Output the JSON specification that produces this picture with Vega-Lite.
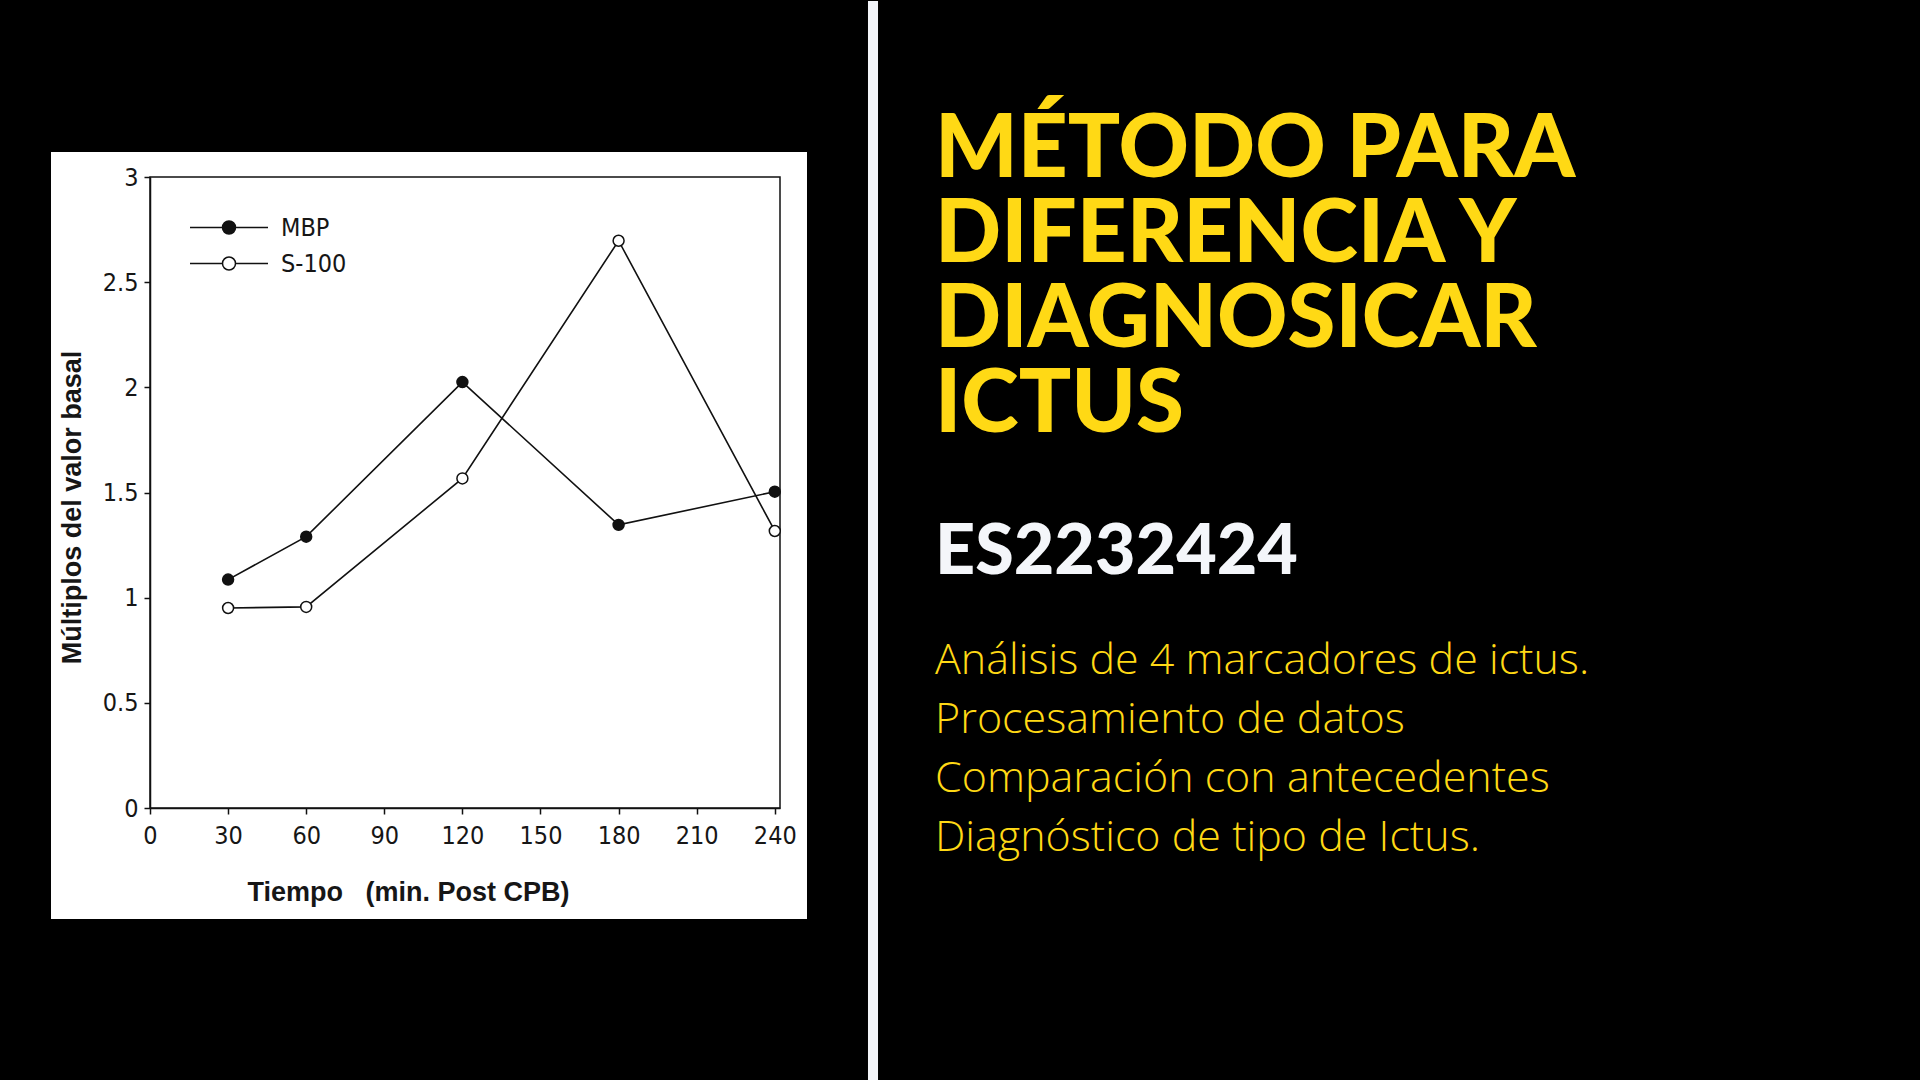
{
  "$schema": "https://vega.github.io/schema/vega-lite/v6.json",
  "background": "black",
  "padding": 0,
  "autosize": {"type": "pad"},
  "bounds": "flush",
  "spacing": 155,
  "config": {"view": {"stroke": null}, "font": "Liberation Sans"},
  "datasets": {
    "series": [
      {"t": 30, "v": 1.086, "serie": "MBP"},
      {"t": 60, "v": 1.29, "serie": "MBP"},
      {"t": 120, "v": 2.025, "serie": "MBP"},
      {"t": 180, "v": 1.346, "serie": "MBP"},
      {"t": 240, "v": 1.504, "serie": "MBP"},
      {"t": 30, "v": 0.951, "serie": "S-100"},
      {"t": 60, "v": 0.956, "serie": "S-100"},
      {"t": 120, "v": 1.567, "serie": "S-100"},
      {"t": 180, "v": 2.697, "serie": "S-100"},
      {"t": 240, "v": 1.317, "serie": "S-100"}
    ],
    "titulo": [
      {"n": 1, "texto": "MÉTODO PARA"},
      {"n": 2, "texto": "DIFERENCIA Y"},
      {"n": 3, "texto": "DIAGNOSICAR"},
      {"n": 4, "texto": "ICTUS"}
    ],
    "codigo": [{"n": 1, "texto": "ES2232424"}],
    "puntos": [
      {"n": 1, "texto": "Análisis de 4 marcadores de ictus."},
      {"n": 2, "texto": "Procesamiento de datos"},
      {"n": 3, "texto": "Comparación con antecedentes"},
      {"n": 4, "texto": "Diagnóstico de tipo de Ictus."}
    ],
    "uno": [{}]
  },
  "hconcat": [
    {
      "width": 630,
      "height": 631,
      "layer": [
        {
          "data": {"name": "uno"},
          "mark": {"type": "rect", "fill": "black"},
          "encoding": {
            "x": {"datum": -57.235, "type": "quantitative", "scale": {"domain": [0, 242], "nice": false, "zero": false}},
            "x2": {"datum": 680.29},
            "y": {"datum": 3.8368, "type": "quantitative", "scale": {"domain": [0, 3], "nice": false, "zero": false}},
            "y2": {"datum": -1.2979}
          }
        },
        {
          "data": {"name": "uno"},
          "mark": {"type": "rect", "fill": "white"},
          "encoding": {
            "x": {"datum": -38.03, "type": "quantitative"},
            "x2": {"datum": 252.37},
            "y": {"datum": 3.1189, "type": "quantitative"},
            "y2": {"datum": -0.5277}
          }
        },
        {
          "data": {"name": "uno"},
          "mark": {"type": "rect", "fill": "#f3f5f9"},
          "encoding": {
            "x": {"datum": 275.8, "type": "quantitative"},
            "x2": {"datum": 279.65},
            "y": {"datum": 3.8368, "type": "quantitative"},
            "y2": {"datum": -1.2979}
          }
        },
        {
          "data": {"name": "uno"},
          "mark": {"type": "rect", "fill": null, "fillOpacity": 0, "stroke": "#111111", "strokeWidth": 1.5},
          "encoding": {
            "x": {"datum": 0, "type": "quantitative"},
            "x2": {"datum": 242},
            "y": {"datum": 3, "type": "quantitative"},
            "y2": {"datum": 0}
          }
        },
        {
          "data": {"name": "series"},
          "mark": {"type": "line", "color": "#111111", "strokeWidth": 1.6},
          "encoding": {
            "x": {
              "field": "t", "type": "quantitative",
              "axis": {
                "title": "Tiempo\u00a0\u00a0\u00a0(min. Post CPB)",
                "values": [0, 30, 60, 90, 120, 150, 180, 210, 240],
                "format": "d",
                "zindex": 1,
                "grid": false,
                "labelFlush": false,
                "labelOverlap": false,
                "labelFont": "Liberation Sans Narrow, DejaVu Sans Condensed, Liberation Sans",
                "labelFontSize": 25,
                "labelColor": "#161616",
                "labelPadding": 9,
                "tickSize": 6,
                "tickWidth": 1.5,
                "tickColor": "#111111",
                "domainColor": "#111111",
                "domainWidth": 1.5,
                "titleFont": "Liberation Sans",
                "titleFontWeight": "bold",
                "titleFontSize": 27,
                "titleColor": "#161616",
                "titleBaseline": "middle",
                "titleX": 258,
                "titleY": 84
              }
            },
            "y": {
              "field": "v", "type": "quantitative",
              "axis": {
                "title": "Múltiplos del valor basal",
                "values": [0, 0.5, 1, 1.5, 2, 2.5, 3],
                "format": "~g",
                "zindex": 1,
                "grid": false,
                "labelFlush": false,
                "labelOverlap": false,
                "labelFont": "Liberation Sans Narrow, DejaVu Sans Condensed, Liberation Sans",
                "labelFontSize": 25,
                "labelColor": "#161616",
                "labelPadding": 6,
                "tickSize": 6,
                "tickWidth": 1.5,
                "tickColor": "#111111",
                "domainColor": "#111111",
                "domainWidth": 1.5,
                "titleFont": "Liberation Sans",
                "titleFontWeight": "bold",
                "titleFontSize": 27,
                "titleColor": "#161616",
                "titleBaseline": "middle",
                "titleX": -78,
                "titleY": 330
              }
            },
            "detail": {"field": "serie"}
          }
        },
        {
          "data": {"name": "series"},
          "mark": {"type": "point", "shape": "circle", "filled": true, "size": 120, "stroke": "#111111", "strokeWidth": 1.5, "opacity": 1},
          "encoding": {
            "x": {"field": "t", "type": "quantitative", "title": "Tiempo\u00a0\u00a0\u00a0(min. Post CPB)"},
            "y": {"field": "v", "type": "quantitative", "title": "Múltiplos del valor basal"},
            "fill": {
              "field": "serie", "type": "nominal",
              "scale": {"domain": ["MBP", "S-100"], "range": ["#111111", "white"]},
              "legend": {
                "orient": "none",
                "legendX": 66.5,
                "legendY": 38,
                "title": null,
                "padding": 0,
                "zindex": 1,
                "symbolType": "M-6,0H-1M1,0H6M1,0A1,1,0,1,1,-1,0A1,1,0,1,1,1,0",
                "symbolSize": 169,
                "symbolStrokeColor": "#111111",
                "symbolStrokeWidth": 1.5,
                "symbolOpacity": 1,
                "labelFont": "Liberation Sans Narrow, DejaVu Sans Condensed, Liberation Sans",
                "labelFontSize": 25,
                "labelColor": "#161616",
                "labelOffset": 39.5,
                "rowPadding": 10,
                "encode": {"symbols": {"update": {"stroke": {"value": "#111111"}, "strokeWidth": {"value": 1.5}}}}
              }
            }
          }
        }
      ]
    },
    {
      "vconcat": [
        {
          "width": 900,
          "height": 255,
          "data": {"name": "titulo"},
          "mark": {"type": "text", "align": "left", "baseline": "alphabetic", "font": "Lato", "fontWeight": 900, "fontSize": 87, "color": "#FFD915"},
          "encoding": {
            "x": {"datum": 0, "type": "quantitative", "scale": {"domain": [0, 1]}, "axis": null},
            "y": {"field": "n", "type": "ordinal", "scale": {"type": "point", "padding": 0}, "axis": null},
            "text": {"field": "texto"}
          }
        },
        {
          "vconcat": [
            {
              "width": 900,
              "height": 2,
              "data": {"name": "codigo"},
              "mark": {"type": "text", "align": "left", "baseline": "alphabetic", "font": "Lato", "fontWeight": 900, "fontSize": 70, "color": "#F4F6FA"},
              "encoding": {
                "x": {"datum": 0, "type": "quantitative", "scale": {"domain": [0, 1]}, "axis": null},
                "y": {"field": "n", "type": "ordinal", "scale": {"type": "point", "padding": 0}, "axis": null},
                "text": {"field": "texto"}
              }
            },
            {
              "width": 900,
              "height": 177,
              "data": {"name": "puntos"},
              "mark": {"type": "text", "align": "left", "baseline": "alphabetic", "font": "Open Sans", "fontWeight": 300, "fontSize": 43, "color": "#FFD915"},
              "encoding": {
                "x": {"datum": 0, "type": "quantitative", "scale": {"domain": [0, 1]}, "axis": null},
                "y": {"field": "n", "type": "ordinal", "scale": {"type": "point", "padding": 0}, "axis": null},
                "text": {"field": "texto"}
              }
            }
          ],
          "spacing": 99,
          "bounds": "flush"
        }
      ],
      "spacing": 141,
      "bounds": "flush"
    }
  ]
}
